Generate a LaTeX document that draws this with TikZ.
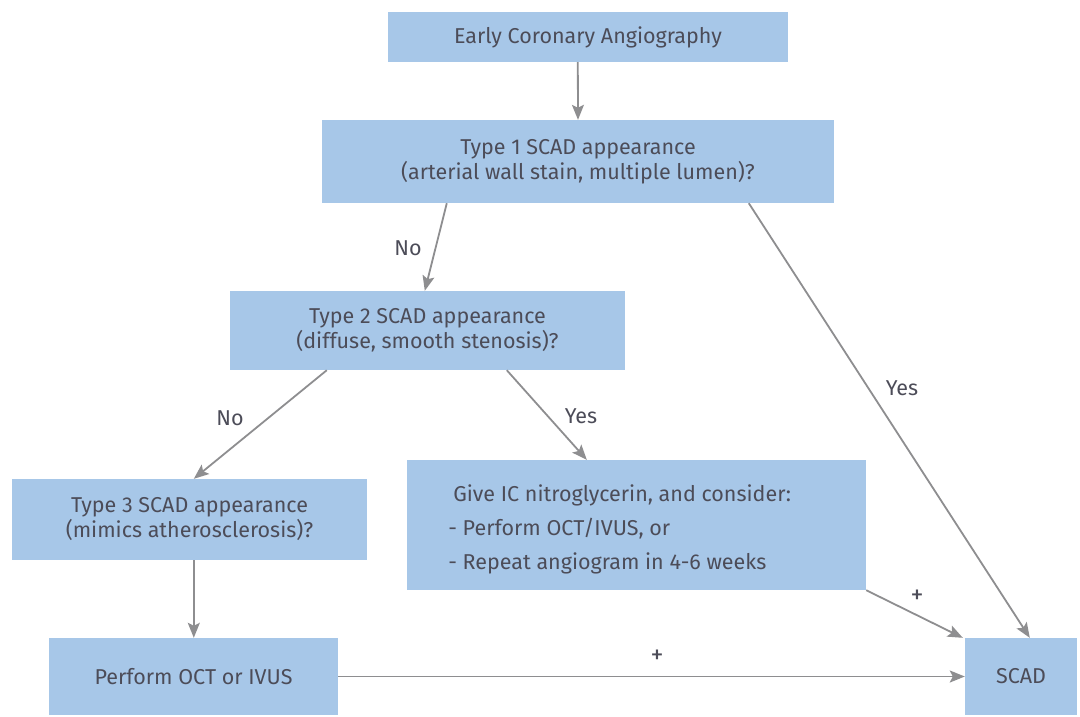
\documentclass[tikz,border=0pt]{standalone}
\usepackage{fontspec}
\setmainfont{Fira Sans}
\usetikzlibrary{arrows.meta}
\definecolor{boxblue}{HTML}{A7C7E8}
\definecolor{txt}{HTML}{4C4C58}
\definecolor{arr}{HTML}{8E8E90}
\tikzset{
  box/.style={draw=none,fill=boxblue,inner sep=0pt,text=txt,align=center,font=\fontsize{21.5}{25}\selectfont},
  conn/.style={draw=arr,line width=1.8pt,-{Stealth[length=15pt,width=12pt,inset=3pt]}},
  lbl/.style={text=txt,font=\fontsize{21.5}{25}\selectfont}
}
\begin{document}
\begin{tikzpicture}[x=1pt,y=-1pt]
\useasboundingbox (0,0) rectangle (1080,716);
\node[box,minimum width=400pt,minimum height=50pt] (b1) at (588,37) {Early Coronary Angiography};
\node[box,minimum width=512pt,minimum height=83pt] (b2) at (578,161.5) {Type 1 SCAD appearance\\(arterial wall stain, multiple lumen)?};
\node[box,minimum width=395pt,minimum height=79pt] (b3) at (427.5,330.5) {Type 2 SCAD appearance\\(diffuse, smooth stenosis)?};
\node[box,minimum width=355pt,minimum height=81pt] (b4) at (189.5,519.5) {Type 3 SCAD appearance\\(mimics atherosclerosis)?};
\node[box,minimum width=459pt,minimum height=130pt] (b5) at (636.5,525) {};
\node[text=txt,align=left,anchor=west,font=\fontsize{21.5}{34}\selectfont] (b5t) at ([xshift=38,yshift=-4]b5.west) {\hspace{5pt}Give IC nitroglycerin, and consider:\\- Perform OCT/IVUS, or\\- Repeat angiogram in 4-6 weeks};
\node[box,minimum width=289pt,minimum height=77pt] (b6) at (193.5,676.5) {Perform OCT or IVUS};
\node[box,minimum width=112pt,minimum height=77pt] (scad) at (1021,676.5) {SCAD};

\draw[conn] ([xshift=190]b1.south west) -- (b2.north);
\draw[conn] ([xshift=125]b2.south west) -- ([xshift=195]b3.north west);
\draw[conn] ([xshift=427]b2.south west) -- ([xshift=65]scad.north west);
\draw[conn] ([xshift=97]b3.south west) -- ([xshift=182]b4.north west);
\draw[conn] ([xshift=277]b3.south west) -- ([xshift=180]b5.north west);
\draw[conn] ([xshift=182]b4.south west) -- ([xshift=145]b6.north west);
\draw[conn] (b5.south east) -- ([xshift=-2]scad.north west);
\draw[conn] (b6.east) -- (scad.west);

\node[lbl] (l1) at (408,248) {No};
\node[lbl] (l2) at (902,388) {Yes};
\node[lbl] (l3) at (230,418) {No};
\node[lbl] (l4) at (581,416) {Yes};
\node[lbl,font=\fontsize{26}{28}\selectfont] (l5) at (917,597) {+};
\node[lbl,font=\fontsize{26}{28}\selectfont] (l6) at (657,657) {+};
\end{tikzpicture}
\end{document}
